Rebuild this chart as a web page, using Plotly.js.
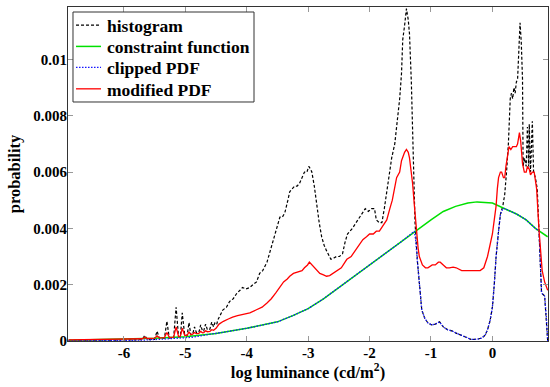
<!DOCTYPE html>
<html>
<head>
<meta charset="utf-8">
<script src="https://cdn.plot.ly/plotly-3.0.1.min.js"></script>
<style>html,body{margin:0;padding:0;background:#fff;}#chart{width:550px;height:387px;}</style>
</head>
<body>
<div id="chart"></div>
<script>
// ---- data ----
const histX = [-6.9,-6.5,-6.2,-6.0,-5.8,-5.70,-5.66,-5.62,-5.50,-5.46,-5.42,-5.34,-5.30,-5.26,-5.19,-5.15,-5.11,-5.08,-5.05,-5.01,-4.97,-4.94,-4.91,-4.88,-4.85,-4.82,-4.78,-4.75,-4.72,-4.70,-4.67,-4.64,-4.60,-4.57,-4.54,-4.52,-4.49,-4.47,-4.43,-4.39,-4.33,-4.28,-4.22,-4.16,-4.11,-4.07,-4.01,-3.95,-3.90,-3.84,-3.79,-3.74,-3.67,-3.62,-3.57,-3.52,-3.46,-3.42,-3.38,-3.33,-3.30,-3.26,-3.22,-3.18,-3.14,-3.10,-3.06,-3.02,-2.99,-2.96,-2.94,-2.90,-2.86,-2.82,-2.78,-2.74,-2.70,-2.66,-2.63,-2.58,-2.54,-2.49,-2.44,-2.40,-2.36,-2.32,-2.28,-2.22,-2.16,-2.12,-2.07,-2.02,-1.97,-1.92,-1.89,-1.84,-1.80,-1.76,-1.71,-1.67,-1.64,-1.59,-1.55,-1.51,-1.48,-1.46,-1.43,-1.40,-1.37,-1.35,-1.32,-1.30,-1.28,-1.26,-1.22,-1.18,-1.15,-1.10,-1.05,-0.99,-0.93,-0.86,-0.80,-0.73,-0.65,-0.59,-0.50,-0.41,-0.35,-0.25,-0.18,-0.12,-0.08,-0.04,0.00,0.03,0.06,0.10,0.13,0.17,0.20,0.23,0.26,0.29,0.31,0.33,0.35,0.37,0.39,0.41,0.43,0.45,0.47,0.49,0.50,0.52,0.55,0.57,0.59,0.60,0.62,0.65,0.67,0.70,0.73,0.76,0.80,0.85,0.88,0.90];
const histY = [0.00002,0.00002,0.00003,0.00003,0.00004,0.00005,0.0002,0.00005,0.00006,0.00035,0.00008,0.0001,0.0007,0.0001,0.00012,0.0012,0.00015,0.00015,0.001,0.0002,0.0002,0.00065,0.00022,0.00025,0.0005,0.0003,0.0003,0.00057,0.00035,0.00036,0.0006,0.0004,0.00042,0.00067,0.0005,0.00064,0.00058,0.00075,0.0009,0.0011,0.0012,0.0014,0.0015,0.0017,0.0018,0.0019,0.00185,0.0019,0.002,0.0021,0.0024,0.0025,0.0028,0.0032,0.0036,0.004,0.0044,0.0044,0.00455,0.005,0.0053,0.0054,0.0055,0.0055,0.0056,0.0058,0.006,0.006,0.0062,0.0061,0.006,0.0055,0.0048,0.0042,0.0037,0.0034,0.0032,0.003,0.0029,0.00295,0.003,0.003,0.0031,0.0035,0.0038,0.0039,0.004,0.0042,0.0044,0.0045,0.0047,0.0046,0.0047,0.0047,0.0043,0.0042,0.0042,0.0047,0.0054,0.006,0.0065,0.007,0.0078,0.0086,0.0095,0.0107,0.0112,0.0118,0.0114,0.0109,0.0092,0.0075,0.0057,0.0042,0.0028,0.0018,0.0011,0.0008,0.00064,0.00057,0.0006,0.00068,0.0005,0.0004,0.00035,0.00028,0.0002,0.0001,0.00006,0.00006,0.0001,0.0002,0.0004,0.0007,0.0012,0.002,0.003,0.0039,0.0045,0.0048,0.0052,0.006,0.007,0.0086,0.0088,0.0086,0.009,0.0088,0.0092,0.0093,0.0105,0.0113,0.0106,0.0093,0.0062,0.0065,0.0062,0.0076,0.0062,0.0077,0.006,0.0078,0.006,0.0058,0.0054,0.0037,0.0017,0.0016,0.0008,0.0];

const constraintX = [-6.9,-6.5,-6.0,-5.5,-5.0,-4.5,-4.0,-3.5,-3.25,-3.0,-2.75,-2.5,-2.25,-2.0,-1.75,-1.5,-1.27,-1.0,-0.8,-0.6,-0.4,-0.25,0.0,0.2,0.4,0.55,0.7,0.9];
const constraintY = [0.00003,0.00005,0.00007,0.0001,0.00015,0.00027,0.00045,0.00068,0.0009,0.00115,0.0015,0.0019,0.0023,0.0027,0.0031,0.0035,0.0039,0.0043,0.0046,0.00478,0.0049,0.00494,0.0049,0.0047,0.0045,0.0043,0.0040,0.0037];

const clippedX = [-6.9,-6.5,-6.0,-5.7,-5.5,-5.3,-5.1,-4.9,-4.7,-4.5,-4.0,-3.5,-3.25,-3.0,-2.75,-2.5,-2.25,-2.0,-1.75,-1.5,-1.27,-1.25,-1.22,-1.18,-1.15,-1.10,-1.05,-0.99,-0.93,-0.86,-0.80,-0.73,-0.65,-0.59,-0.50,-0.41,-0.35,-0.25,-0.18,-0.12,-0.08,-0.04,0.00,0.03,0.06,0.10,0.13,0.17,0.2,0.4,0.55,0.7,0.76,0.80,0.85,0.88,0.90];
const clippedY = [0.00001,0.00001,0.00002,0.00003,0.00005,0.00008,0.0001,0.00013,0.0002,0.00027,0.00045,0.00068,0.0009,0.00115,0.0015,0.0019,0.0023,0.0027,0.0031,0.0035,0.0039,0.0036,0.0028,0.0018,0.0011,0.0008,0.00064,0.00057,0.0006,0.00068,0.0005,0.0004,0.00035,0.00028,0.0002,0.0001,0.00006,0.00006,0.0001,0.0002,0.0004,0.0007,0.0012,0.002,0.003,0.0039,0.0045,0.0047,0.0047,0.0045,0.0043,0.0040,0.0039,0.0017,0.0016,0.0008,0.0];

const modifiedX = [-6.9,-6.5,-6.0,-5.7,-5.66,-5.62,-5.50,-5.46,-5.42,-5.34,-5.30,-5.26,-5.19,-5.15,-5.11,-5.08,-5.05,-5.01,-4.97,-4.94,-4.91,-4.88,-4.85,-4.82,-4.78,-4.75,-4.72,-4.70,-4.67,-4.64,-4.60,-4.57,-4.54,-4.50,-4.45,-4.38,-4.30,-4.23,-4.15,-4.05,-3.95,-3.85,-3.75,-3.67,-3.60,-3.53,-3.46,-3.40,-3.34,-3.30,-3.24,-3.17,-3.10,-3.06,-3.01,-2.98,-2.94,-2.89,-2.85,-2.81,-2.75,-2.70,-2.65,-2.60,-2.53,-2.46,-2.40,-2.37,-2.30,-2.24,-2.17,-2.11,-2.05,-2.00,-1.94,-1.89,-1.84,-1.78,-1.72,-1.67,-1.63,-1.56,-1.51,-1.48,-1.43,-1.40,-1.37,-1.35,-1.32,-1.30,-1.27,-1.24,-1.21,-1.19,-1.14,-1.09,-1.05,-0.98,-0.93,-0.88,-0.85,-0.80,-0.75,-0.70,-0.64,-0.59,-0.50,-0.40,-0.30,-0.20,-0.14,-0.08,-0.04,0.00,0.03,0.06,0.08,0.10,0.13,0.15,0.18,0.20,0.22,0.24,0.27,0.30,0.33,0.36,0.39,0.41,0.44,0.46,0.47,0.49,0.52,0.55,0.57,0.60,0.62,0.65,0.68,0.72,0.76,0.81,0.85,0.90];
const modifiedY = [0.00004,0.00005,0.00007,0.00008,0.00013,0.00009,0.0001,0.00018,0.00011,0.00012,0.0003,0.00013,0.00014,0.0005,0.00016,0.00017,0.00045,0.0002,0.0002,0.00032,0.00022,0.00024,0.0003,0.00026,0.00027,0.00034,0.00029,0.0003,0.00036,0.00033,0.00034,0.0004,0.00038,0.00045,0.0006,0.0007,0.00078,0.00085,0.0009,0.00095,0.001,0.0011,0.0012,0.00135,0.0015,0.0017,0.0019,0.0021,0.0022,0.0023,0.0024,0.00245,0.0025,0.0026,0.0027,0.0028,0.0027,0.0026,0.0025,0.0024,0.00235,0.0023,0.00232,0.0024,0.0025,0.0026,0.0028,0.0029,0.003,0.0032,0.0034,0.0036,0.0037,0.0038,0.0038,0.0039,0.0039,0.0041,0.0043,0.0047,0.005,0.0058,0.006,0.0064,0.0067,0.0068,0.0067,0.0065,0.006,0.0056,0.0048,0.0039,0.0033,0.003,0.0027,0.0026,0.0026,0.0027,0.0027,0.0028,0.0028,0.0027,0.0026,0.0026,0.00262,0.0026,0.0025,0.0025,0.0025,0.0025,0.0026,0.003,0.0034,0.0038,0.0043,0.0048,0.0054,0.0058,0.006,0.006,0.0058,0.0058,0.0062,0.0065,0.0069,0.0068,0.0069,0.0069,0.0069,0.007,0.0074,0.0071,0.0069,0.0063,0.006,0.006,0.0062,0.0061,0.0059,0.006,0.006,0.0054,0.0039,0.0025,0.0021,0.0018];

const seriesNames = ['histogram','constraint function','clipped PDF','modified PDF'];
const xTickVals = [-6,-5,-4,-3,-2,-1,0];
const xTickText = ['-6','-5','-4','-3','-2','-1','0'];
const yTickVals = [0,0.002,0.004,0.006,0.008,0.01];
const yTickText = ['0','0.002','0.004','0.006','0.008','0.01'];

const serif = 'Liberation Serif, Times New Roman, serif';
const lineStyles = [
  {color: '#000', width: 1.2, dash: '3px,2px'},
  {color: '#00e000', width: 1.5},
  {color: '#1515ff', width: 1.3, dash: '1.5px,1.5px'},
  {color: '#ff0000', width: 1.3}
];
const seriesX = [histX, constraintX, clippedX, modifiedX];
const seriesY = [histY, constraintY, clippedY, modifiedY];

const traces = seriesNames.map((n, i) => ({
  x: seriesX[i], y: seriesY[i], name: n, mode: 'lines', line: lineStyles[i], showlegend: false
}));

// hand-built legend box (matches the MATLAB-style legend)
const legY = [0.946, 0.882, 0.819, 0.755];
const shapes = [{
  type: 'rect', xref: 'paper', yref: 'paper', x0: 0.0104, x1: 0.3875, y0: 0.7156, y1: 0.985,
  line: {color: '#333', width: 1}, fillcolor: '#fff', layer: 'above'
}];
const annotations = [];
seriesNames.forEach((n, i) => {
  shapes.push({type: 'line', xref: 'paper', yref: 'paper', x0: 0.0167, x1: 0.0688, y0: legY[i], y1: legY[i],
    line: lineStyles[i], layer: 'above'});
  annotations.push({xref: 'paper', yref: 'paper', x: 0.077, y: legY[i] - 0.003, xanchor: 'left', yanchor: 'middle',
    text: n, showarrow: false, font: {family: serif, size: 17.5, color: '#000', weight: 'bold'}});
});

const axisCommon = {
  showgrid: false, zeroline: false, showline: true, mirror: 'ticks',
  linecolor: '#333', linewidth: 1, ticks: 'inside', ticklen: 5, tickcolor: '#999',
  tickfont: {family: serif, size: 15, color: '#000', weight: 'bold'}
};

const layout = {
  width: 550, height: 387,
  margin: {l: 68, r: 2, t: 7, b: 46},
  paper_bgcolor: '#fff', plot_bgcolor: '#fff',
  showlegend: false,
  shapes: shapes,
  annotations: annotations,
  xaxis: Object.assign({}, axisCommon, {
    range: [-6.91, 0.905], tickvals: xTickVals, ticktext: xTickText, ticklabelstandoff: -2,
    title: {text: 'log luminance (cd/m<sup>2</sup>)', font: {family: serif, size: 16.5, color: '#000', weight: 'bold'}, standoff: 4}
  }),
  yaxis: Object.assign({}, axisCommon, {
    range: [0, 0.01186], tickvals: yTickVals, ticktext: yTickText, ticklabelstandoff: -3,
    title: {text: 'probability', font: {family: serif, size: 16.5, color: '#000', weight: 'bold'}, standoff: 8}
  })
};

Plotly.newPlot('chart', traces, layout, {displayModeBar: false, staticPlot: true});
</script>
</body>
</html>
